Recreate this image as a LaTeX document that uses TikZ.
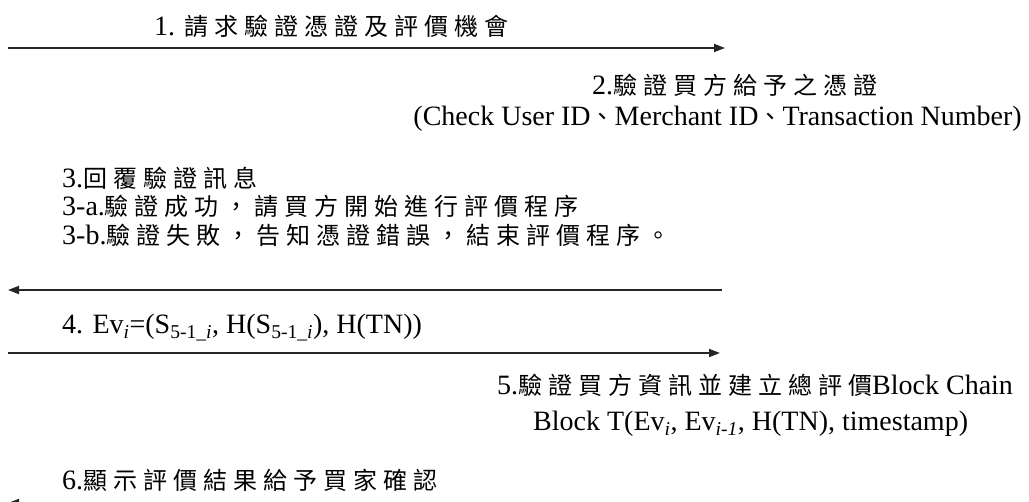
\documentclass[tikz,border=0pt]{standalone}
\usepackage{fontspec}
\setmainfont{Liberation Serif}
\newfontfamily\cjk[LetterSpace=25]{Noto Sans CJK TC}
\usetikzlibrary{arrows.meta}
\newcommand{\zh}[1]{{\cjk\fontsize{24}{28}\selectfont #1}}
\newcommand{\isub}[1]{\textsubscript{#1}}
\tikzset{
  msg/.style={anchor=base west, inner sep=0pt, font=\fontsize{28}{32}\selectfont},
  msgr/.style={anchor=base east, inner sep=0pt, font=\fontsize{28}{32}\selectfont},
  flow/.style={line width=1.8pt, draw=black!85, -{Triangle[length=11pt,width=8pt]}}
}
\begin{document}
\begin{tikzpicture}[x=1pt,y=-1pt]
\useasboundingbox[fill=white] (0,0) rectangle (1029,502);
% messages
\node[msg] (t1) at (154,36) {1. \zh{請求驗證憑證及評價機會}};
\coordinate (a1s) at (8,48);
\coordinate (a1e) at (725,48);
\draw[flow] (a1s) -- (a1e);

\node[msg] (t2a) at (592,95) {2.\zh{驗證買方給予之憑證}};
\node[msgr] (t2b) at (1022,126) {(Check User ID\zh{、}Merchant ID\zh{、}Transaction Number)};

\node[msg] (t3) at (62,188) {3.\zh{回覆驗證訊息}};
\node[msg] (t3a) at (62,216) {3-a.\zh{驗證成功，請買方開始進行評價程序}};
\node[msg] (t3b) at (62,245) {3-b.\zh{驗證失敗，告知憑證錯誤，結束評價程序。}};
\coordinate (a3s) at (722,290);
\coordinate (a3e) at (8,290);
\draw[flow] (a3s) -- (a3e);

\node[msg] (t4) at (62,334) {4. Ev\isub{\textit{i}}=(S\isub{5-1\_\textit{i}}, H(S\isub{5-1\_\textit{i}}), H(TN))};
\coordinate (a4s) at (8,353);
\coordinate (a4e) at (720,353);
\draw[flow] (a4s) -- (a4e);

\node[msg] (t5a) at (497,395) {5.\zh{驗證買方資訊並建立總評價}Block Chain};
\node[msg] (t5b) at (533,431) {Block T(Ev\isub{\textit{i}}, Ev\isub{\textit{i-1}}, H(TN), timestamp)};

\node[msg] (t6) at (62,490) {6.\zh{顯示評價結果給予買家確認}};
\coordinate (a6s) at (735,503);
\coordinate (a6e) at (8,503);
\draw[flow] (a6s) -- (a6e);
\end{tikzpicture}
\end{document}
